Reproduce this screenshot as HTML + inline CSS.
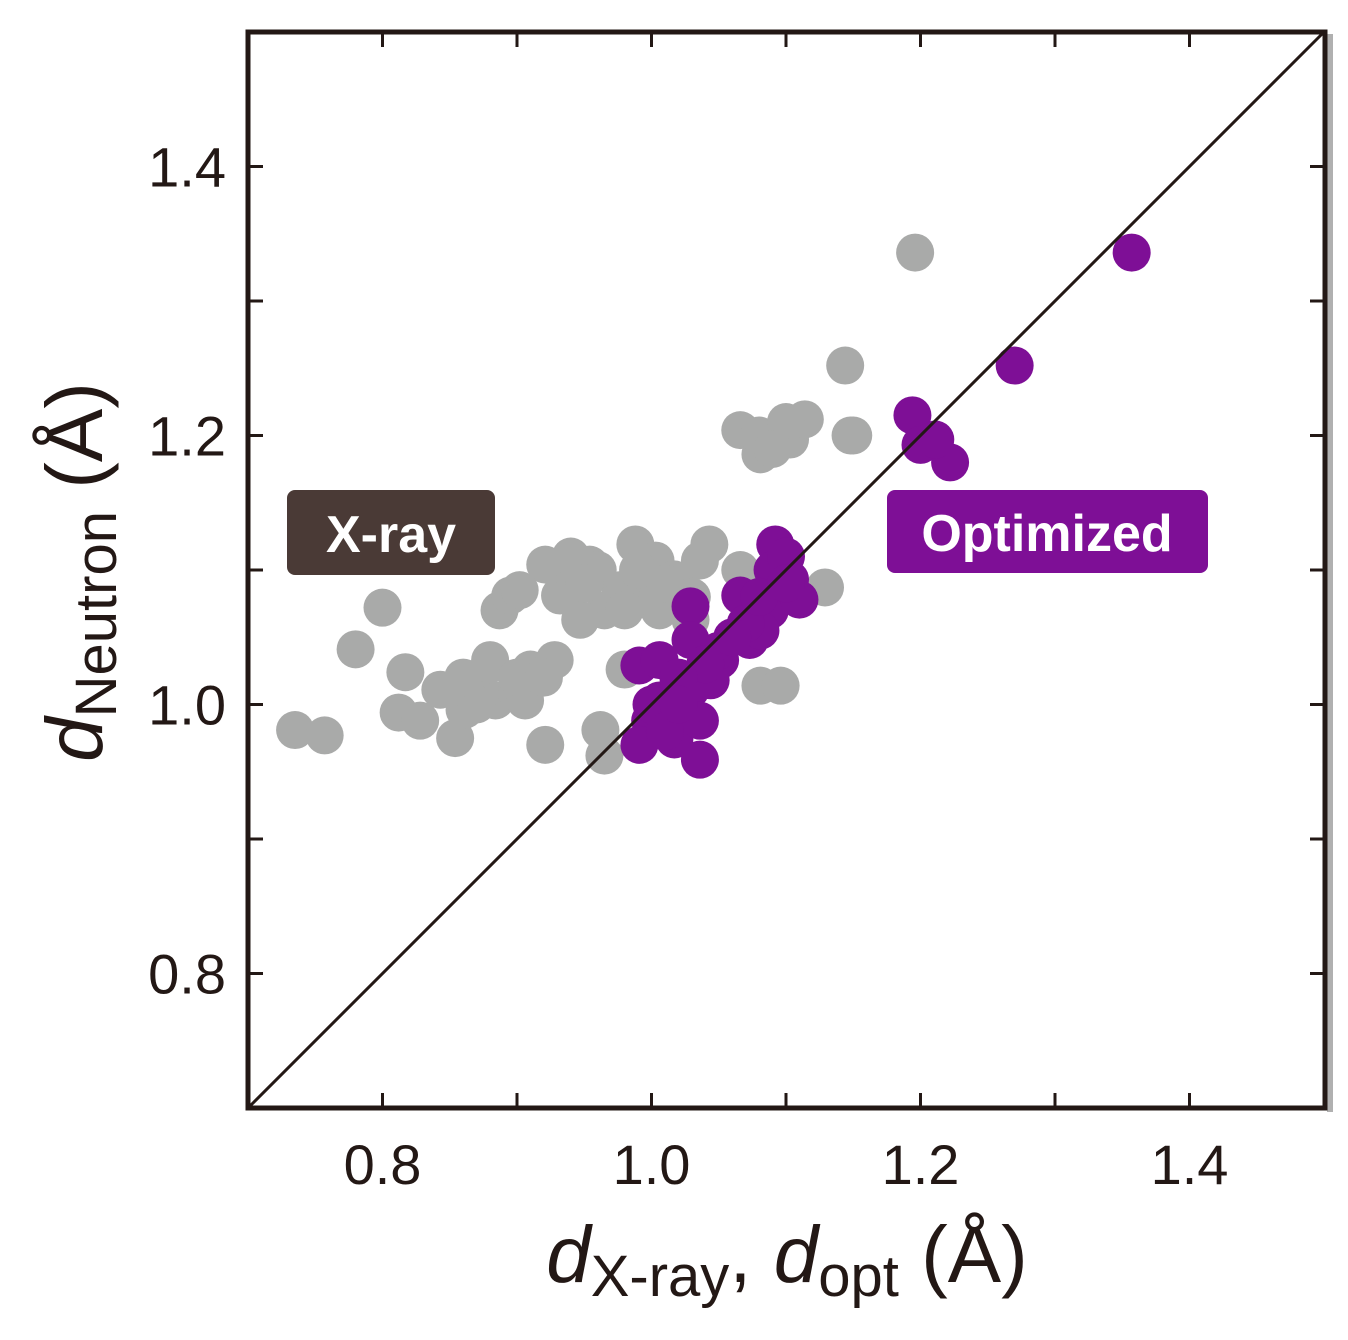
<!DOCTYPE html>
<html><head><meta charset="utf-8"><style>
body{margin:0;background:#fff;}
svg text{font-family:"Liberation Sans",sans-serif;}
</style></head><body>
<svg id="chart" width="1348" height="1335" viewBox="0 0 1348 1335" xmlns="http://www.w3.org/2000/svg">
<rect x="1327" y="34" width="6" height="1078" fill="#b0b0b0"/>
<g id="marks"></g>
<rect x="248" y="32" width="1077" height="1076" fill="none" stroke="#231815" stroke-width="5"/>
<g id="ticks"></g>
<rect x="287" y="490" width="208" height="85" rx="8" fill="#4a3a36"/>
<text x="391" y="552" text-anchor="middle" font-size="52" font-weight="bold" fill="#fff">X-ray</text>
<rect x="887" y="490" width="321" height="83" rx="8" fill="#7e0f96"/>
<text x="1047" y="551" text-anchor="middle" font-size="52" font-weight="bold" fill="#fff">Optimized</text>
<text x="787" y="1282" text-anchor="middle" font-size="80" fill="#231815"><tspan font-style="italic">d</tspan><tspan font-size="58" dy="14">X-ray</tspan><tspan dy="-14">, </tspan><tspan font-style="italic">d</tspan><tspan font-size="58" dy="14">opt</tspan><tspan dy="-14"> (Å)</tspan></text>
<text transform="translate(102,572) rotate(-90)" text-anchor="middle" font-size="80" fill="#231815"><tspan font-style="italic">d</tspan><tspan font-size="58" dy="14">Neutron</tspan><tspan dy="-14"> (Å)</tspan></text>
</svg>
<script>
const grayX=[0.735,0.757,0.780,0.800,0.817,0.812,0.828,0.854,0.843,0.865,0.880,0.887,0.895,0.884,0.899,0.910,0.921,0.928,0.906,0.921,0.932,0.943,0.954,0.965,0.962,0.965,0.980,0.988,1.003,1.017,1.036,1.043,0.991,0.977,1.066,1.081,1.103,1.114,1.148,1.144,1.196,1.081,1.096,1.129,1.066,1.006,1.029,0.902,0.947,0.872,0.861,0.94,0.96,0.99,1.01,1.03,0.95,0.98,0.88,0.90,0.87,0.92,0.86,1.08,1.10,1.15,1.09];
const grayY=[0.981,0.977,1.041,1.072,1.024,0.994,0.988,0.975,1.011,1.018,1.033,1.070,1.081,1.003,1.011,1.026,0.970,1.033,1.003,1.104,1.081,1.093,1.104,1.070,0.981,0.962,1.026,1.119,1.107,1.093,1.107,1.119,1.078,1.085,1.204,1.186,1.197,1.212,1.200,1.252,1.336,1.014,1.014,1.087,1.100,1.070,1.063,1.085,1.063,1.011,0.996,1.11,1.10,1.10,1.09,1.08,1.09,1.07,1.03,1.02,1.00,1.02,1.02,1.20,1.21,1.20,1.19];
const optX=[1.357,1.270,1.194,1.200,1.222,1.211,1.029,0.991,1.006,0.999,0.991,1.017,1.036,1.029,1.051,1.066,1.073,1.088,1.096,1.092,1.103,1.110,1.029,1.014,1.044,1.081,1.006,1.036,1.09,1.10,1.07,1.05,1.04,1.02,1.00,1.01,1.02,1.06,1.08,1.10];
const optY=[1.336,1.252,1.215,1.193,1.180,1.197,1.073,1.029,1.003,0.988,0.970,0.974,0.959,1.011,1.033,1.081,1.048,1.070,1.107,1.119,1.093,1.078,1.048,1.003,1.018,1.055,1.033,0.988,1.10,1.11,1.06,1.04,1.03,1.02,1.00,0.98,1.00,1.05,1.08,1.09];
const xTickLabels=["0.8","1.0","1.2","1.4"];
const yTickLabels=["0.8","1.0","1.2","1.4"];
const NS="http://www.w3.org/2000/svg";
const sx=v=>248+(v-0.7)*1345;
const sy=v=>1108-(v-0.7)*1345;
function mk(t,a,p){const e=document.createElementNS(NS,t);for(const k in a)e.setAttribute(k,a[k]);p.appendChild(e);return e;}
const marks=document.getElementById('marks');
grayX.forEach((x,i)=>{const c=mk('circle',{cx:sx(x),cy:sy(grayY[i]),r:19,fill:'#a9aaa9'},marks);

});
optX.forEach((x,i)=>{const c=mk('circle',{cx:sx(x),cy:sy(optY[i]),r:19,fill:'#7e0f96'},marks);

});
const ln=mk('line',{x1:sx(0.7),y1:sy(0.7),x2:sx(1.5),y2:sy(1.5),stroke:'#231815','stroke-width':3},marks);


const tk=document.getElementById('ticks');
for(let k=1;k<8;k++){const v=0.7+k*0.1;
 const X=sx(v),Y=sy(v);
 [[X,1108,X,1093],[X,32,X,47],[248,Y,263,Y],[1325,Y,1310,Y]].forEach(q=>{const l=mk('line',{x1:q[0],y1:q[1],x2:q[2],y2:q[3],stroke:'#231815','stroke-width':3},tk);
 
 });}
xTickLabels.forEach(s=>{const t=mk('text',{x:sx(+s),y:1184,'text-anchor':'middle','font-size':56,fill:'#231815'},tk);t.textContent=s;

});
yTickLabels.forEach(s=>{const t=mk('text',{x:226,y:sy(+s)+20,'text-anchor':'end','font-size':56,fill:'#231815'},tk);t.textContent=s;

});
</script>
</body></html>
